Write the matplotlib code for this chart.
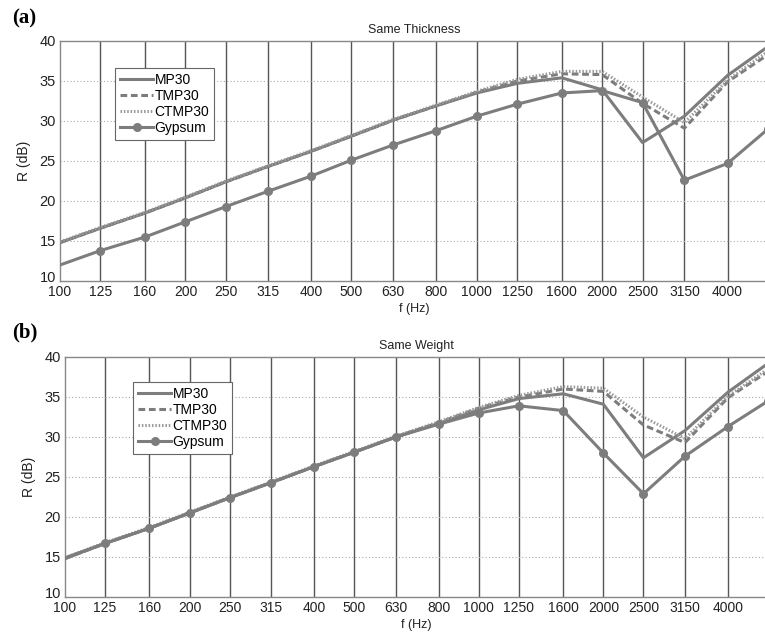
import matplotlib
matplotlib.use("Agg")
import matplotlib.pyplot as plt
import matplotlib.transforms as mtransforms
from matplotlib.ticker import NullLocator

freqs = [100, 125, 160, 200, 250, 315, 400, 500, 630, 800, 1000, 1250, 1600, 2000, 2500, 3150, 4000, 5000]
tick_freqs = [100, 125, 160, 200, 250, 315, 400, 500, 630, 800, 1000, 1250, 1600, 2000, 2500, 3150, 4000]
tick_labels = [str(f) for f in tick_freqs]
series_names = ["MP30", "TMP30", "CTMP30", "Gypsum"]

# (a) Same Thickness
a_mp30 = [14.8, 16.6, 18.5, 20.4, 22.4, 24.3, 26.2, 28.1, 30.1, 31.9, 33.5, 34.7, 35.4, 33.9, 27.3, 30.6, 35.7, 39.3]
a_tmp30 = [14.8, 16.6, 18.5, 20.4, 22.4, 24.3, 26.2, 28.1, 30.1, 31.9, 33.6, 35.0, 35.9, 35.8, 32.2, 29.1, 34.9, 38.3]
a_ctmp30 = [14.9, 16.7, 18.6, 20.5, 22.5, 24.4, 26.3, 28.2, 30.2, 32.0, 33.7, 35.2, 36.2, 36.2, 33.0, 29.8, 35.1, 38.7]
a_gypsum = [12.0, 13.8, 15.5, 17.4, 19.3, 21.2, 23.1, 25.1, 27.0, 28.8, 30.6, 32.1, 33.5, 33.8, 32.3, 22.6, 24.7, 29.0]

# (b) Same Weight
b_mp30 = [14.8, 16.7, 18.6, 20.5, 22.4, 24.3, 26.3, 28.1, 30.0, 31.7, 33.4, 34.8, 35.4, 34.1, 27.4, 30.8, 35.6, 39.2]
b_tmp30 = [14.8, 16.7, 18.6, 20.5, 22.4, 24.3, 26.3, 28.1, 30.0, 31.8, 33.6, 35.0, 36.0, 35.7, 31.5, 29.3, 34.9, 38.2]
b_ctmp30 = [14.9, 16.8, 18.7, 20.6, 22.5, 24.4, 26.4, 28.2, 30.1, 31.9, 33.7, 35.2, 36.3, 36.1, 32.5, 29.8, 35.1, 38.5]
b_gypsum = [14.9, 16.7, 18.6, 20.5, 22.4, 24.3, 26.3, 28.1, 30.0, 31.6, 33.0, 33.9, 33.3, 28.0, 22.9, 27.6, 31.3, 34.5]

plt.rcParams['font.family'] = ['Liberation Sans', 'DejaVu Sans']

W, H = 765, 633
fig = plt.figure(figsize=(W / 100, H / 100), dpi=100)

line_c = '#7d7d7d'
lw = 2.2


def make_panel(rect, title, data, legend_anchor):
    ax = fig.add_axes(rect)
    mp, tmp, ctmp, gyp = data
    ax.plot(freqs, mp, color=line_c, lw=lw, ls='-', label=series_names[0], zorder=3)
    ax.plot(freqs, tmp, color=line_c, lw=lw, ls=(0, (2.2, 1.2)), label=series_names[1], zorder=3)
    ax.plot(freqs, ctmp, color='#9a9a9a', lw=lw, ls=(0, (0.5, 0.6)), label=series_names[2], zorder=3)
    ax.plot(freqs, gyp, color=line_c, lw=lw, ls='-', marker='o', ms=5.5,
            markevery=list(range(1, len(freqs))),
            mec=line_c, mfc=line_c, label=series_names[3], zorder=4)
    ax.set_xscale('log')
    ax.set_xlim(100, 5000)
    ax.set_ylim(10, 40)
    ax.set_xticks(tick_freqs)
    ax.set_xticklabels(tick_labels)
    ax.xaxis.set_minor_locator(NullLocator())
    ax.set_yticks([10, 15, 20, 25, 30, 35, 40])
    ax.tick_params(axis='both', which='both', length=0, labelsize=10, colors='#222222', pad=3)
    ylabs = ax.get_yticklabels()
    for lab in ylabs:
        lab.set_fontsize(10.5)
    off = mtransforms.ScaledTranslation(0, 5 / 100, fig.dpi_scale_trans)
    ylabs[0].set_transform(ylabs[0].get_transform() + off)
    for f in tick_freqs[1:]:
        ax.axvline(f, color='#555555', lw=1.0, zorder=1)
    for y in [15, 20, 25, 30, 35]:
        ax.axhline(y, color='#aaaaaa', lw=0.8, ls=(0, (1, 2)), zorder=1)
    for s in ax.spines.values():
        s.set_color('#888888')
        s.set_linewidth(1.0)
    ax.set_title(title, fontsize=9, pad=6, color='#222222')
    ax.set_xlabel('f (Hz)', fontsize=9, labelpad=3, color='#222222')
    ax.set_ylabel('R (dB)', fontsize=10, labelpad=6, color='#222222')
    leg = ax.legend(loc='upper left', bbox_to_anchor=legend_anchor, fontsize=10,
                    handlelength=2.4, handletextpad=0.1, borderpad=0.35,
                    labelspacing=0.15, frameon=True, fancybox=False, borderaxespad=0)
    leg.get_frame().set_edgecolor('#666666')
    leg.get_frame().set_linewidth(0.8)
    leg.get_frame().set_alpha(1)
    return ax


ax1 = make_panel([60 / W, 1 - 281 / H, 708 / W, 240 / H], 'Same Thickness',
                 (a_mp30, a_tmp30, a_ctmp30, a_gypsum), (55 / 708, 1 - 27 / 240))
ax2 = make_panel([65 / W, 1 - 597 / H, 703 / W, 240 / H], 'Same Weight',
                 (b_mp30, b_tmp30, b_ctmp30, b_gypsum), (68 / 703, 1 - 25 / 240))

fig.text(12 / W, 1 - 18 / H, '(a)', fontsize=15, fontweight='bold',
         family=['Liberation Serif', 'DejaVu Serif'], va='center', ha='left')
fig.text(12 / W, 1 - 332 / H, '(b)', fontsize=15, fontweight='bold',
         family=['Liberation Serif', 'DejaVu Serif'], va='center', ha='left')

fig.savefig('out.png', dpi=100)
